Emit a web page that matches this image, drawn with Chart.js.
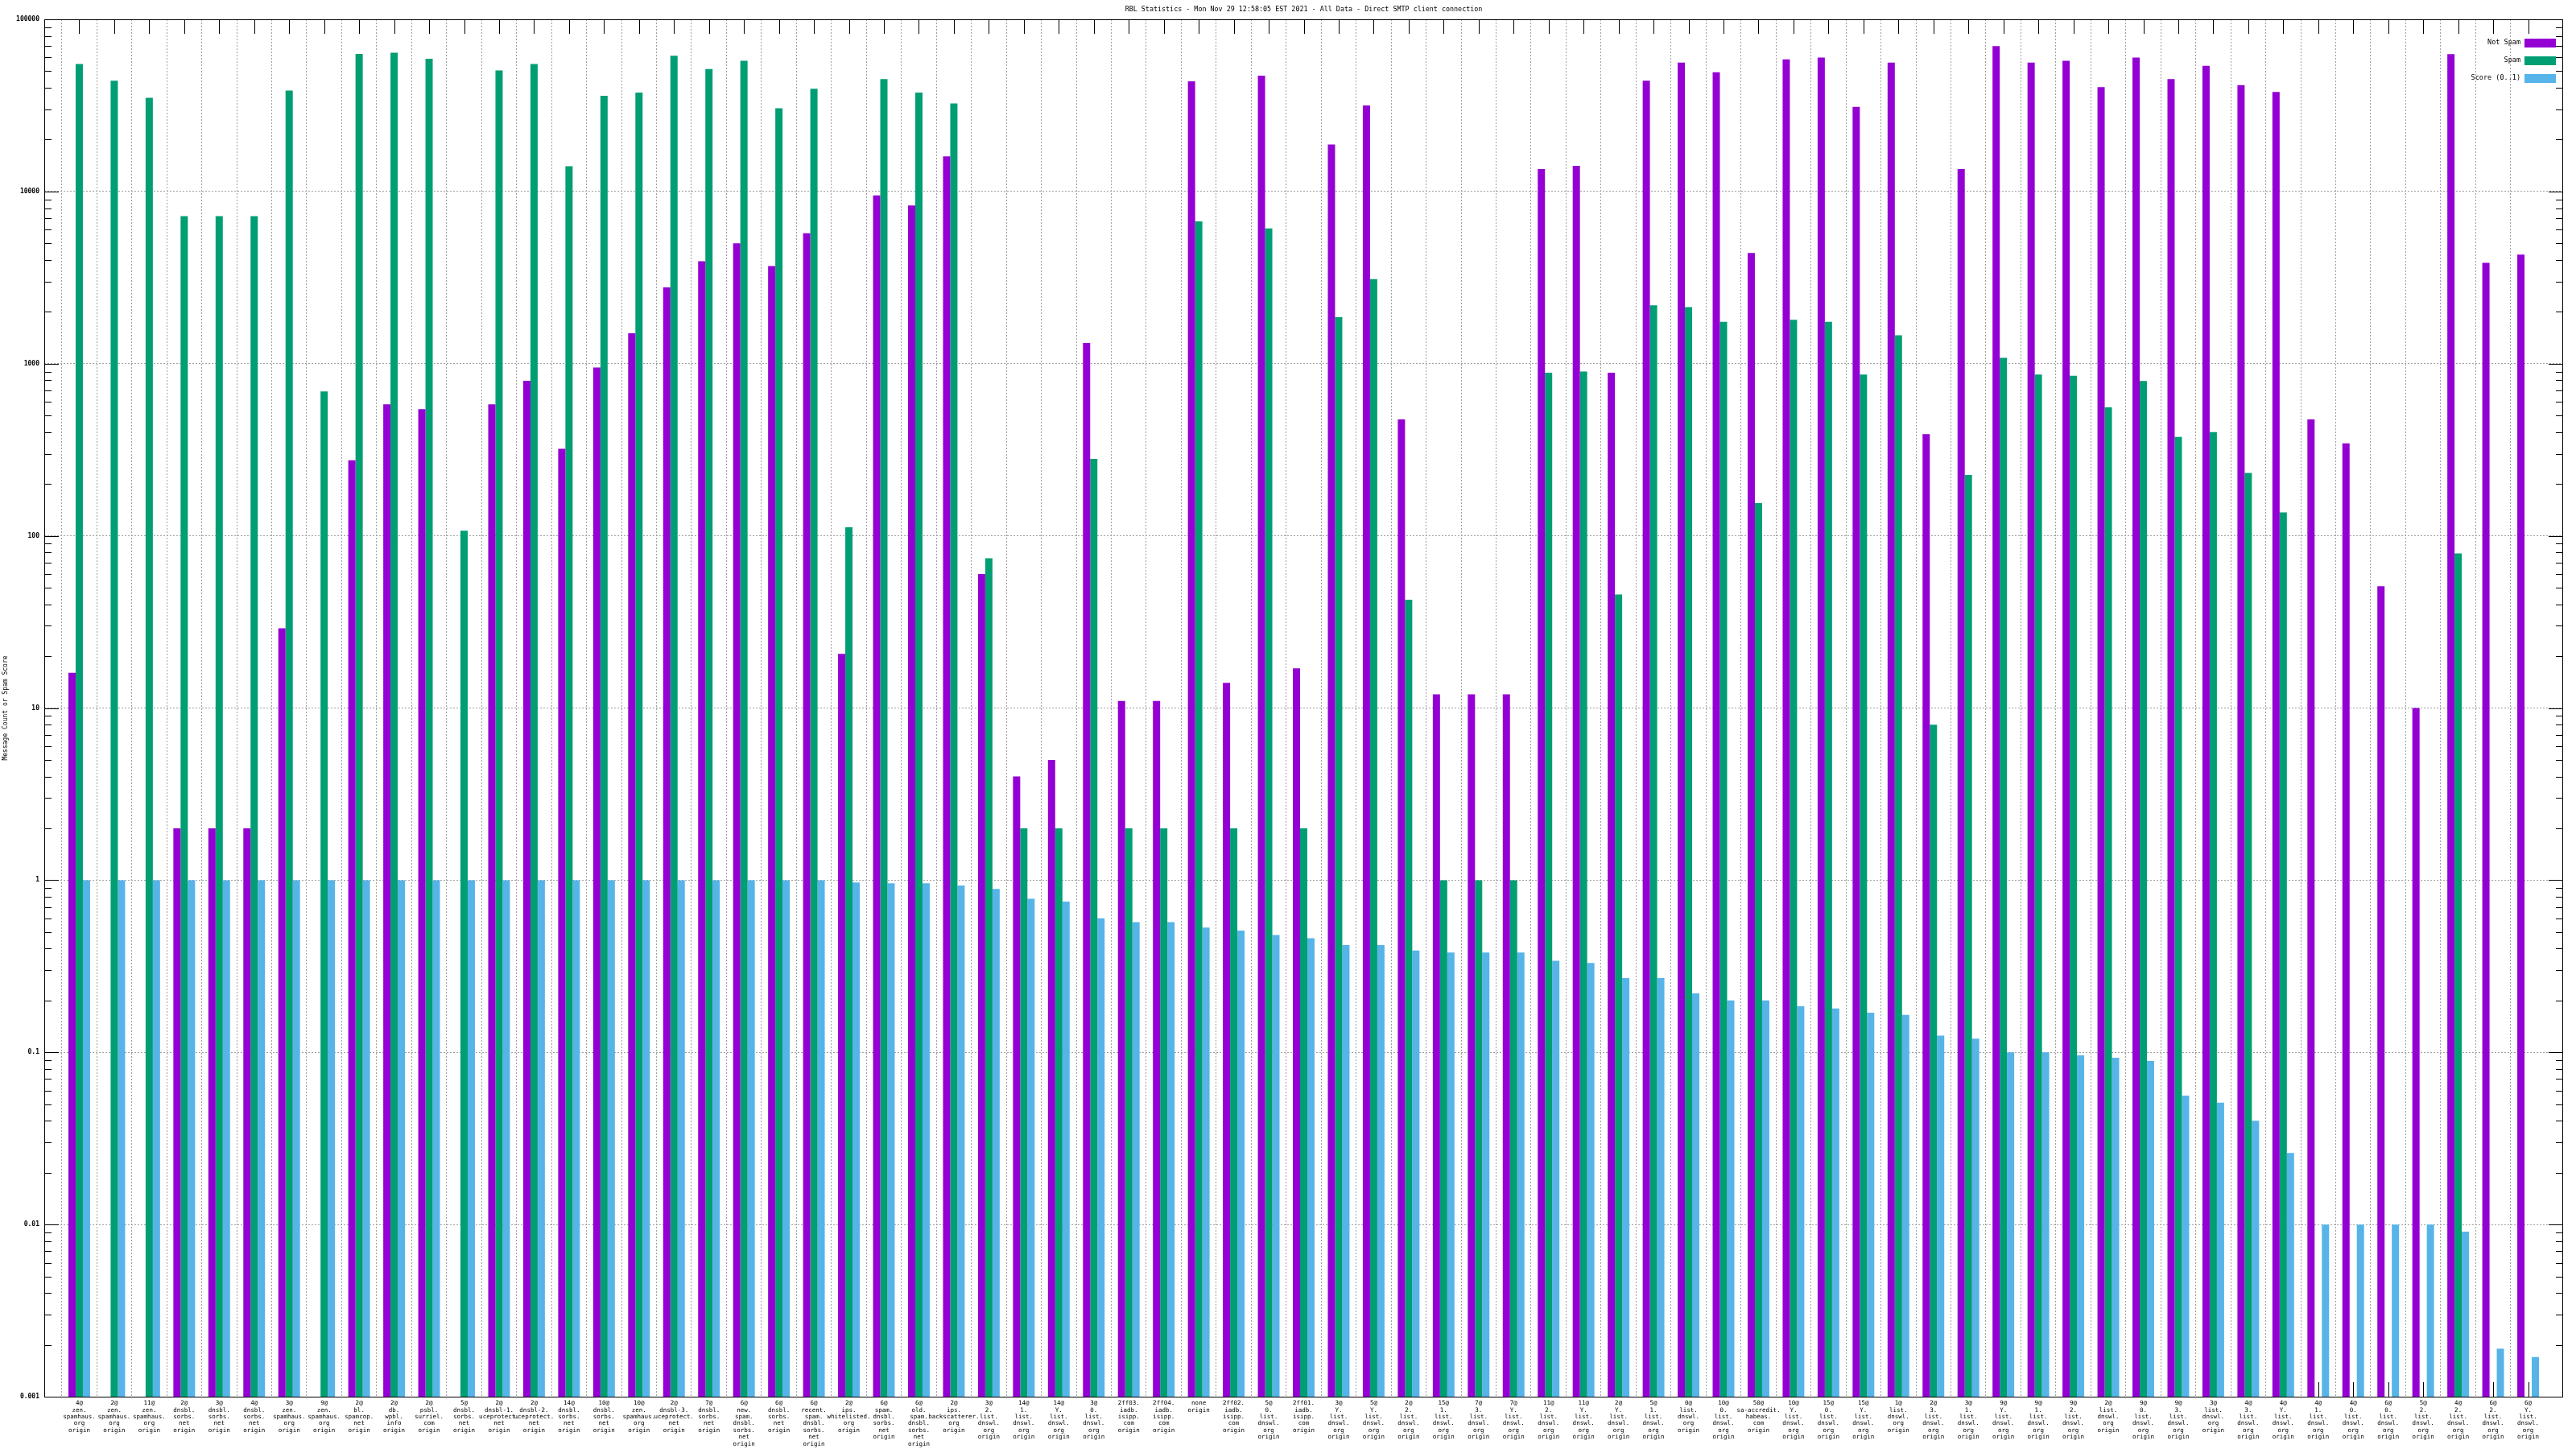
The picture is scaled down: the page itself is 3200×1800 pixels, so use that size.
<!DOCTYPE html>
<html>
<head>
<meta charset="utf-8">
<title>RBL Statistics</title>
<script src="https://cdn.jsdelivr.net/npm/chart.js@4/dist/chart.umd.min.js"></script>
<style>
  html, body { margin: 0; padding: 0; background: #fff; }
  #wrap { width: 3200px; height: 1800px; }
</style>
</head>
<body>
<div id="wrap"><canvas id="rblChart" width="3200" height="1800"></canvas></div>
<script>
const chartTitle = 'RBL Statistics - Mon Nov 29 12:58:05 EST 2021 - All Data - Direct SMTP client connection';

// one label per group, lines split on spaces
const categories = [
  '4@ zen. spamhaus. org origin', '2@ zen. spamhaus. org origin', '11@ zen. spamhaus. org origin',
  '2@ dnsbl. sorbs. net origin', '3@ dnsbl. sorbs. net origin', '4@ dnsbl. sorbs. net origin',
  '3@ zen. spamhaus. org origin', '9@ zen. spamhaus. org origin', '2@ bl. spamcop. net origin',
  '2@ db. wpbl. info origin', '2@ psbl. surriel. com origin', '5@ dnsbl. sorbs. net origin',
  '2@ dnsbl-1. uceprotect. net origin', '2@ dnsbl-2. uceprotect. net origin', '14@ dnsbl. sorbs. net origin',
  '10@ dnsbl. sorbs. net origin', '10@ zen. spamhaus. org origin', '2@ dnsbl-3. uceprotect. net origin',
  '7@ dnsbl. sorbs. net origin', '6@ new. spam. dnsbl. sorbs. net origin', '6@ dnsbl. sorbs. net origin',
  '6@ recent. spam. dnsbl. sorbs. net origin', '2@ ips. whitelisted. org origin', '6@ spam. dnsbl. sorbs. net origin',
  '6@ old. spam. dnsbl. sorbs. net origin', '2@ ips. backscatterer. org origin', '3@ 2. list. dnswl. org origin',
  '14@ 1. list. dnswl. org origin', '14@ Y. list. dnswl. org origin', '3@ 0. list. dnswl. org origin',
  '2ff03. iadb. isipp. com origin', '2ff04. iadb. isipp. com origin', 'none origin',
  '2ff02. iadb. isipp. com origin', '5@ 0. list. dnswl. org origin', '2ff01. iadb. isipp. com origin',
  '3@ Y. list. dnswl. org origin', '5@ Y. list. dnswl. org origin', '2@ 2. list. dnswl. org origin',
  '15@ 1. list. dnswl. org origin', '7@ 3. list. dnswl. org origin', '7@ Y. list. dnswl. org origin',
  '11@ 2. list. dnswl. org origin', '11@ Y. list. dnswl. org origin', '2@ Y. list. dnswl. org origin',
  '5@ 1. list. dnswl. org origin', '0@ list. dnswl. org origin', '10@ 0. list. dnswl. org origin',
  '50@ sa-accredit. habeas. com origin', '10@ Y. list. dnswl. org origin', '15@ 0. list. dnswl. org origin',
  '15@ Y. list. dnswl. org origin', '1@ list. dnswl. org origin', '2@ 3. list. dnswl. org origin',
  '3@ 1. list. dnswl. org origin', '9@ Y. list. dnswl. org origin', '9@ 1. list. dnswl. org origin',
  '9@ 2. list. dnswl. org origin', '2@ list. dnswl. org origin', '9@ 0. list. dnswl. org origin',
  '9@ 3. list. dnswl. org origin', '3@ list. dnswl. org origin', '4@ 3. list. dnswl. org origin',
  '4@ Y. list. dnswl. org origin', '4@ 1. list. dnswl. org origin', '4@ 0. list. dnswl. org origin',
  '6@ 0. list. dnswl. org origin', '5@ 2. list. dnswl. org origin', '4@ 2. list. dnswl. org origin',
  '6@ 2. list. dnswl. org origin', '6@ Y. list. dnswl. org origin',
];

const notSpam = [
  16, null, null, 2, 2, 2, 29, null, 275, 580,
  545, null, 580, 795, 320, 950, 1500, 2770, 3940, 5000,
  3690, 5720, 20.6, 9500, 8300, 16000, 60, 4, 5, 1320,
  11, 11, 43600, 14, 47100, 17, 18750, 31600, 475, 12,
  12, 12, 13500, 14100, 885, 44000, 56000, 49300, 4400, 58600,
  60000, 31000, 56000, 390, 13500, 70000, 56000, 57500, 40400, 60000,
  45000, 53700, 41500, 37800, 475, 344, 51, 10, 62800, 3850,
  4300,
];

const spam = [
  55000, 44000, 35000, 7200, 7200, 7200, 38600, 690, 63000, 64000,
  59000, 107, 50500, 55000, 14000, 36000, 37500, 61500, 51500, 57500,
  30400, 39500, 112, 45000, 37500, 32500, 74, 2, 2, 280,
  2, 2, 6700, 2, 6100, 2, 1860, 3100, 42.5, 1,
  1, 1, 885, 900, 45.6, 2180, 2130, 1750, 155, 1800,
  1750, 865, 1460, 8, 226, 1080, 865, 850, 557, 793,
  375, 401, 232, 137, null, null, null, null, 79, null,
  null,
];

const score = [
  1, 1, 1, 1, 1, 1, 1, 1, 1, 1,
  1, 1, 1, 1, 1, 1, 1, 1, 1, 1,
  1, 1, 0.97, 0.96, 0.96, 0.93, 0.89, 0.78, 0.75, 0.6,
  0.57, 0.57, 0.53, 0.51, 0.48, 0.46, 0.42, 0.42, 0.39, 0.38,
  0.38, 0.38, 0.34, 0.33, 0.27, 0.27, 0.22, 0.2, 0.2, 0.185,
  0.18, 0.17, 0.165, 0.125, 0.12, 0.1, 0.1, 0.096, 0.093, 0.089,
  0.056, 0.051, 0.04, 0.026, 0.01, 0.01, 0.01, 0.01, 0.0091, 0.0019,
  0.0017,
];

const seriesNames = ['Not Spam', 'Spam', 'Score (0..1)'];
const yTicks = [0.001, 0.01, 0.1, 1, 10, 100, 1000, 10000, 100000];
const yTickLabels = ['0.001', '0.01', '0.1', '1', '10', '100', '1000', '10000', '100000'];

const colors = {
  notSpam: '#9400d3',
  spam: '#009e73',
  score: '#56b4e9',
  grid: '#a0a0a0',
  axis: '#000000',
};
const FONT = "'DejaVu Sans Mono', 'Liberation Mono', monospace";

// gnuplot puts one empty slot on each side of the histogram
const pad = (arr) => [null, ...arr, null];
const xLabels = ['', ...categories.map((c) => c.split(' ')), ''];

/* Border, inward tics on all four sides */
const frameTics = {
  id: 'frameTics',
  beforeDatasetsDraw(chart) {
    const { ctx, chartArea: a, scales: { x, y } } = chart;
    ctx.save();
    ctx.strokeStyle = colors.axis;
    ctx.lineWidth = 1;
    ctx.beginPath();
    yTicks.forEach((d, i) => {
      const py = Math.round(y.getPixelForValue(d)) + 0.5;
      ctx.moveTo(a.left, py); ctx.lineTo(a.left + 18, py);
      ctx.moveTo(a.right, py); ctx.lineTo(a.right - 18, py);
      if (i === yTicks.length - 1) return;
      for (let k = 2; k < 10; k++) {
        const pm = Math.round(y.getPixelForValue(d * k)) + 0.5;
        ctx.moveTo(a.left, pm); ctx.lineTo(a.left + 9, pm);
        ctx.moveTo(a.right, pm); ctx.lineTo(a.right - 9, pm);
      }
    });
    categories.forEach((_, i) => {
      const px = Math.round(x.getPixelForValue(i + 1)) + 0.5;
      ctx.moveTo(px, a.top); ctx.lineTo(px, a.top + 18);
      ctx.moveTo(px, a.bottom); ctx.lineTo(px, a.bottom - 18);
    });
    ctx.stroke();
    ctx.strokeRect(a.left + 0.5, a.top + 0.5, a.right - a.left - 1, a.bottom - a.top);
    ctx.restore();
  },
};

/* Title and gnuplot-style key (text right-aligned, swatch to its right) */
const titleKey = {
  id: 'titleKey',
  afterDraw(chart) {
    const { ctx, chartArea: a } = chart;
    ctx.save();
    ctx.fillStyle = '#000';
    ctx.font = `8.4px ${FONT}`;
    ctx.textAlign = 'center';
    ctx.textBaseline = 'middle';
    ctx.fillText(chartTitle, (a.left + a.right) / 2, 12);

    ctx.textAlign = 'right';
    ctx.font = `8.5px ${FONT}`;
    chart.data.datasets.forEach((ds, i) => {
      const cy = 53 + i * 22;
      ctx.fillStyle = '#000';
      ctx.fillText(ds.label, 3131, cy);
      ctx.fillStyle = ds.backgroundColor;
      ctx.fillRect(3136, cy - 5, 39, 11);
    });
    ctx.restore();
  },
};

new Chart(document.getElementById('rblChart'), {
  type: 'bar',
  data: {
    labels: xLabels,
    datasets: [
      { label: seriesNames[0], data: pad(notSpam), backgroundColor: colors.notSpam },
      { label: seriesNames[1], data: pad(spam), backgroundColor: colors.spam },
      { label: seriesNames[2], data: pad(score), backgroundColor: colors.score },
    ],
  },
  options: {
    responsive: false,
    animation: false,
    devicePixelRatio: 1,
    layout: { padding: { top: 24, right: 16, left: 0, bottom: 0 } },
    datasets: {
      bar: { borderWidth: 0, categoryPercentage: 0.62, barPercentage: 1 },
    },
    plugins: {
      legend: { display: false },
      title: { display: false },
      tooltip: { enabled: false },
    },
    scales: {
      x: {
        type: 'category',
        offset: false,
        afterFit: (s) => { s.height = 65; },
        grid: {
          color: (c) => (c.index === 0 || c.index === xLabels.length - 1 ? 'rgba(0,0,0,0)' : colors.grid),
          lineWidth: 1,
          drawTicks: false,
        },
        border: { display: false, dash: [2, 2] },
        ticks: {
          autoSkip: false,
          maxRotation: 0,
          minRotation: 0,
          padding: 4,
          color: '#000',
          font: { family: FONT, size: 7.5, lineHeight: 1.12 },
        },
      },
      y: {
        type: 'logarithmic',
        min: 0.001,
        max: 100000,
        afterFit: (s) => { s.width = 55; },
        afterBuildTicks: (s) => { s.ticks = yTicks.map((v) => ({ value: v })); },
        grid: { color: colors.grid, lineWidth: 1, drawTicks: false },
        border: { display: false, dash: [2, 2] },
        ticks: {
          autoSkip: false,
          padding: 6,
          color: '#000',
          font: { family: FONT, size: 8, weight: 'bold' },
          callback: (v, i) => yTickLabels[i],
        },
        title: {
          display: true,
          text: 'Message Count or Spam Score',
          color: '#000',
          padding: { top: 2, bottom: 0 },
          font: { family: FONT, size: 8 },
        },
      },
    },
  },
  plugins: [frameTics, titleKey],
});
</script>
</body>
</html>
